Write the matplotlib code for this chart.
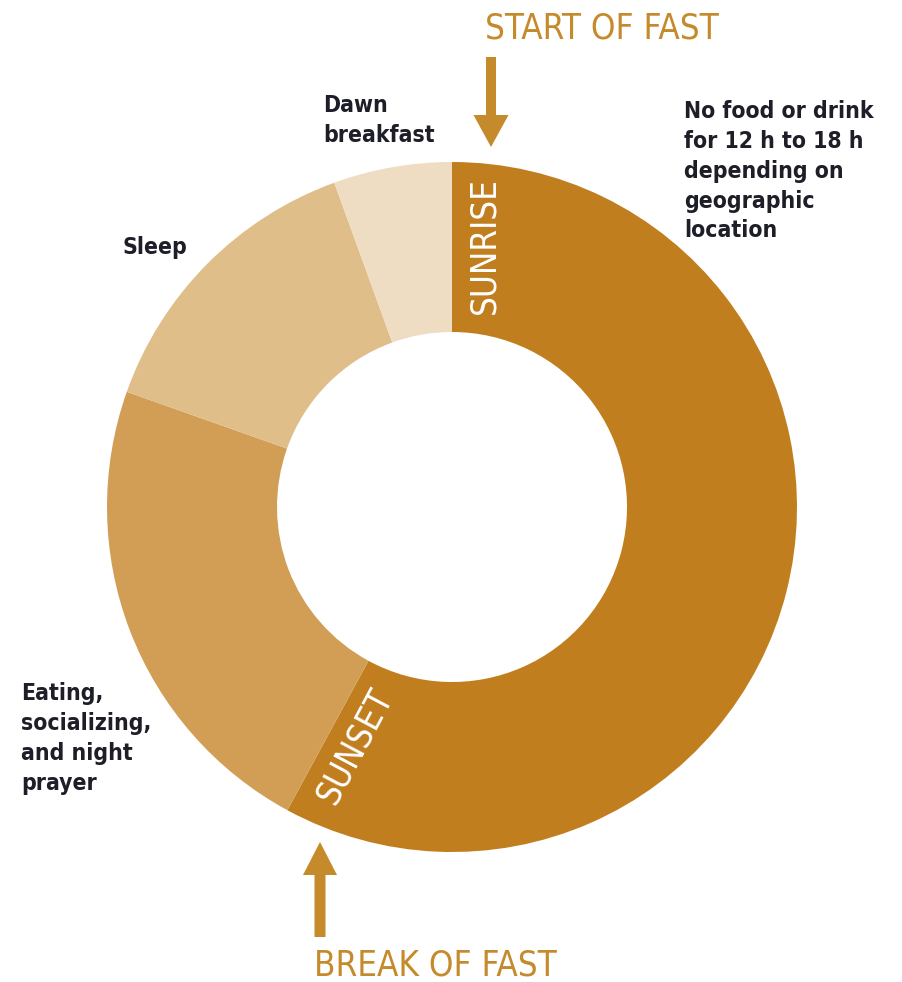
import matplotlib
matplotlib.use("Agg")
import matplotlib.pyplot as plt
from matplotlib.patches import FancyArrow

plt.rcParams['font.family'] = ['DejaVu Sans']
plt.rcParams['font.stretch'] = 'condensed'

# hours of a Ramadan day, clockwise from sunrise
segments = ['Fasting', 'Eating, socializing, and night prayer', 'Sleep', 'Dawn breakfast']
hours = [13.9, 5.4, 3.37, 1.33]
colors = ['#C17E1F', '#D29E55', '#E0BE8A', '#EFDDC3']

W, H = 902, 982
fig = plt.figure(figsize=(W / 100, H / 100), dpi=100)
ax = fig.add_axes([0, 0, 1, 1])

cx, cy = 452, H - 507
R = 345
ax.pie(hours, colors=colors, startangle=90, counterclock=False,
       radius=R, center=(cx, cy), wedgeprops=dict(width=R - 175, linewidth=0))

ax.set_xlim(0, W)
ax.set_ylim(0, H)
ax.set_aspect('equal')
ax.axis('off')

accent = '#C58A2C'
ink = '#1E1E28'

# markers along the ring
ax.text(484, H - 246, 'SUNRISE', rotation=90, ha='center', va='center',
        color='white', fontsize=25)
ax.text(355, H - 746, 'SUNSET', rotation=62, ha='center', va='center',
        color='white', fontsize=25, rotation_mode='anchor')

# arrows and headings
ax.add_patch(FancyArrow(491, H - 57, 0, -(147 - 57), width=10, head_width=35,
                        head_length=32, length_includes_head=True,
                        color=accent, linewidth=0))
ax.add_patch(FancyArrow(320, H - 937, 0, 937 - 842, width=11, head_width=34,
                        head_length=33, length_includes_head=True,
                        color=accent, linewidth=0))
ax.text(485, H - 38, 'START OF FAST', ha='left', va='baseline',
        color=accent, fontsize=25)
ax.text(314, H - 976, 'BREAK OF FAST', ha='left', va='baseline',
        color=accent, fontsize=25)

# segment captions
lab = dict(color=ink, fontsize=16.5, fontweight='bold', ha='left', va='top',
           linespacing=1.38)
ax.text(684, H - 100, 'No food or drink\nfor 12 h to 18 h\ndepending on\ngeographic\nlocation', **lab)
ax.text(323, H - 94, 'Dawn\nbreakfast', **lab)
ax.text(123, H - 236, 'Sleep', **lab)
ax.text(21, H - 682, 'Eating,\nsocializing,\nand night\nprayer', **lab)

fig.savefig('out.png', dpi=100)
